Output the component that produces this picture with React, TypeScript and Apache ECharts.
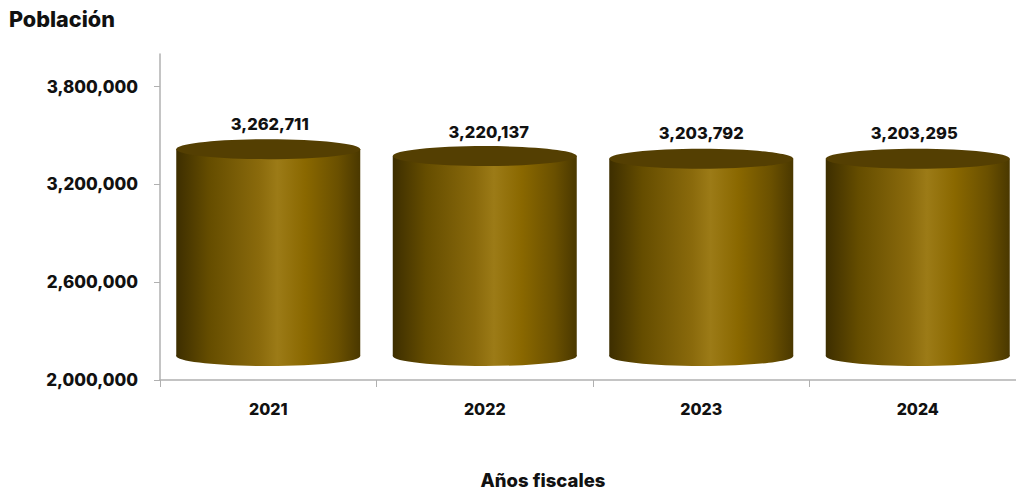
import React, { useEffect, useRef } from "react";
import * as echarts from "echarts";

const categories = ["2021", "2022", "2023", "2024"];
const values = [3262711, 3220137, 3203792, 3203295];
const tickValues = [2000000, 2600000, 3200000, 3800000];
const titleText = "Población";
const xAxisTitle = "Años fiscales";
const labelNudgeX = [1.5, 4, 0, -3.5];
const labelNudgeY = [1, 2, 0, 0];
const FONT = "Inter, 'Noto Sans', sans-serif";
const fmt = (v: number) => v.toLocaleString("en-US");

export default function App() {
  const ref = useRef<HTMLDivElement>(null);
  useEffect(() => {
    document.body.style.margin = "0";
    const chart = echarts.init(ref.current!, null, { renderer: "svg" });
    const side = new echarts.graphic.LinearGradient(0, 0, 1, 0, [
      { offset: 0, color: "#3d2e00" },
      { offset: 0.18, color: "#654d00" },
      { offset: 0.45, color: "#8a6a0c" },
      { offset: 0.55, color: "#9c7b17" },
      { offset: 0.7, color: "#8a6800" },
      { offset: 0.88, color: "#6a5000" },
      { offset: 1, color: "#4a3800" },
    ]);
    chart.setOption({
      animation: false,
      title: [
        { text: titleText, left: 4, top: 3, textStyle: { fontFamily: FONT, fontSize: 21.6, fontWeight: 800, color: "#111" } },
        { text: xAxisTitle, left: 538, top: 465, textAlign: "center", textStyle: { fontFamily: FONT, fontSize: 18.5, fontWeight: 800, color: "#111" } },
      ],
      grid: { left: 160, top: 54, width: 866, height: 326, containLabel: false, outerBoundsMode: "none" },
      xAxis: {
        type: "category",
        data: categories,
        axisLine: { lineStyle: { color: "#b0b0b0", width: 1.5 } },
        axisTick: { show: true, alignWithLabel: false, length: 7, lineStyle: { color: "#b0b0b0" } },
        axisLabel: { margin: 21, fontFamily: FONT, fontSize: 16, fontWeight: 800, color: "#111" },
      },
      yAxis: {
        type: "value",
        min: 2000000,
        max: 4000000,
        axisLine: { show: true, lineStyle: { color: "#b0b0b0", width: 1.5 } },
        axisTick: { show: true, length: 6, customValues: tickValues, lineStyle: { color: "#b0b0b0" } },
        axisLabel: { margin: 22, padding: [4, 0, 0, 0], customValues: tickValues, formatter: (v: number) => fmt(v), fontFamily: FONT, fontSize: 17, fontWeight: 800, color: "#111" },
        splitLine: { show: false },
      },
      series: [
        {
          type: "custom",
          clip: false,
          data: values.map((v, i) => [i, v]),
          encode: { x: 0, y: 1 },
          renderItem: (_params: any, api: any) => {
            const idx = api.value(0);
            const val = api.value(1);
            const top = api.coord([idx, val]);
            const base = api.coord([idx, 2000000]);
            const cx = top[0];
            const yTop = top[1] - 25;
            const yBase = base[1] - 24;
            const rx = 92;
            const ry = 10;
            return {
              type: "group",
              children: [
                {
                  type: "ellipse",
                  shape: { cx, cy: yBase, rx, ry },
                  style: { fill: side },
                },
                {
                  type: "rect",
                  shape: { x: cx - rx, y: yTop, width: rx * 2, height: yBase - yTop },
                  style: { fill: side },
                },
                {
                  type: "ellipse",
                  shape: { cx, cy: yTop, rx, ry },
                  style: { fill: "#543f02" },
                },
                {
                  type: "text",
                  style: {
                    x: cx + labelNudgeX[idx],
                    y: yTop - 26 + labelNudgeY[idx],
                    text: fmt(val),
                    textAlign: "center",
                    textVerticalAlign: "middle",
                    fontFamily: FONT,
                    fontSize: 16.5,
                    fontWeight: 800,
                    fill: "#111",
                  },
                },
              ],
            };
          },
        },
      ],
    });
    return () => chart.dispose();
  }, []);
  return <div ref={ref} style={{ width: 1016, height: 489 }} />;
}
